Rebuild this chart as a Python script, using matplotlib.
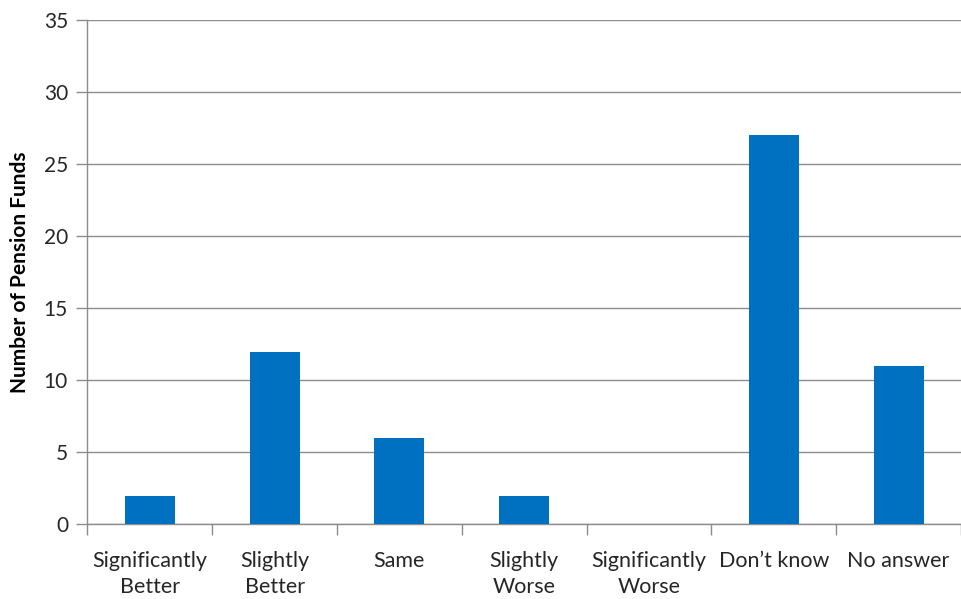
import matplotlib
matplotlib.use("Agg")
import matplotlib.pyplot as plt
import numpy as np

categories = ["Significantly\nBetter", "Slightly\nBetter", "Same", "Slightly\nWorse",
              "Significantly\nWorse", "Don\u2019t know", "No answer"]
counts = [2, 12, 6, 2, 0, 27, 11]
y_ticks = [0, 5, 10, 15, 20, 25, 30, 35]

plt.rcParams['font.family'] = ['Lato', 'DejaVu Sans']

fig = plt.figure(figsize=(9.61, 5.99), dpi=100)
ax = fig.add_axes([0.091, 0.1244, 0.909, 0.8422])

bar_color = "#0070C0"
grid_color = "#8C8C8C"
text_color = "#262626"
x = np.arange(len(categories))
ax.bar(x, counts, width=0.4, color=bar_color, zorder=3)

ax.set_xlim(-0.5, len(categories) - 0.5)
ax.set_ylim(0, 35)
ax.set_yticks(y_ticks)
ax.set_yticklabels([str(v) for v in y_ticks], fontsize=15, color=text_color)
ax.yaxis.grid(True, color=grid_color, linewidth=1.0, zorder=0)

# category labels centred, tick marks at category boundaries
ax.set_xticks(x)
ax.set_xticklabels(categories, fontsize=15.5, color=text_color, linespacing=1.4)
ax.tick_params(axis='x', length=0, pad=19)
ax.set_xticks(np.arange(len(categories) + 1) - 0.5, minor=True)
ax.tick_params(axis='x', which='minor', length=8, color=grid_color, width=1.0)
ax.tick_params(axis='y', length=8, color=grid_color, width=1.0, pad=6)

for side in ("top", "right"):
    ax.spines[side].set_visible(False)
for side in ("left", "bottom"):
    ax.spines[side].set_color(grid_color)
    ax.spines[side].set_linewidth(1.0)

ax.set_ylabel("Number of Pension Funds", fontsize=15, fontweight="bold",
              color="#000000", labelpad=10)

fig.savefig("out.png", dpi=100)
